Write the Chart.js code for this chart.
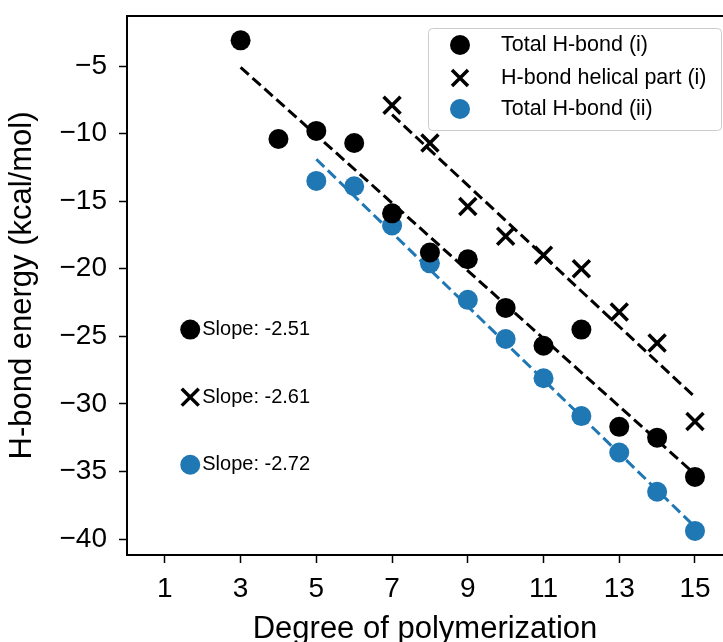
<!DOCTYPE html>
<html>
<head>
<meta charset="utf-8">
<script src="https://cdn.jsdelivr.net/npm/chart.js@4.4.1/dist/chart.umd.min.js"></script>
<style>
  html, body { margin: 0; padding: 0; background: #fff; overflow: hidden; }
  canvas { display: block; }
</style>
</head>
<body>
<canvas id="myChart" width="723" height="642"></canvas>
<script>
// data
const degI = [3, 4, 5, 6, 7, 8, 9, 10, 11, 12, 13, 14, 15];
const totalI = [-3.1, -10.4, -9.8, -10.7, -15.9, -18.8, -19.3, -22.9, -25.7, -24.5, -31.7, -32.5, -35.4];

const degHelix = [7, 8, 9, 10, 11, 12, 13, 14, 15];
const helixI = [-7.9, -10.7, -15.4, -17.6, -19.0, -20.0, -23.2, -25.5, -31.3];

const degII = [5, 6, 7, 8, 9, 10, 11, 12, 13, 14, 15];
const totalII = [-13.5, -13.9, -16.8, -19.6, -22.3, -25.2, -28.1, -30.9, -33.6, -36.5, -39.4];

// fitted lines (end points)
const fitIX = [3, 15];
const fitIY = [-5.1, -35.2];
const fitHelixX = [7, 15];
const fitHelixY = [-8.6, -29.5];
const fitIIX = [5, 15];
const fitIIY = [-11.9, -39.1];

// slope notes
const slopeText = ['Slope: -2.51', 'Slope: -2.61', 'Slope: -2.72'];
const slopeX = [1.67, 1.67, 1.67];
const slopeY = [-24.5, -29.5, -34.5];

const xTicks = [1, 3, 5, 7, 9, 11, 13, 15];
const yTicks = [-5, -10, -15, -20, -25, -30, -35, -40];

const legendLabels = ['Total H-bond (i)', 'H-bond helical part (i)', 'Total H-bond (ii)'];

const BLUE = '#1f77b4';
const FONT = "'Liberation Sans', Arial, sans-serif";

const pts = (xs, ys) => xs.map((x, i) => ({x: x, y: ys[i]}));

const noteText = {
    id: 'noteText',
    afterDatasetsDraw(chart) {
        const ctx = chart.ctx;
        const xs = chart.scales.x, ys = chart.scales.y;
        ctx.save();
        ctx.font = '20px ' + FONT;
        ctx.fillStyle = '#000';
        ctx.textBaseline = 'middle';
        ctx.textAlign = 'left';
        slopeText.forEach((t, i) => {
            ctx.fillText(t, xs.getPixelForValue(slopeX[i]) + 12, ys.getPixelForValue(slopeY[i]));
        });
        ctx.restore();
    }
};

const boxLegend = {
    id: 'boxLegend',
    afterDraw(chart) {
        const ctx = chart.ctx;
        ctx.save();
        ctx.fillStyle = 'rgba(255,255,255,0.8)';
        ctx.strokeStyle = '#cccccc';
        ctx.lineWidth = 1;
        ctx.beginPath();
        ctx.roundRect(428.5, 28.5, 293, 102, 4);
        ctx.fill();
        ctx.stroke();
        const rows = [45, 78, 109];
        // markers
        ctx.fillStyle = '#000';
        ctx.beginPath(); ctx.arc(460, rows[0], 10, 0, Math.PI * 2); ctx.fill();
        ctx.strokeStyle = '#000';
        ctx.lineWidth = 3.5;
        ctx.beginPath();
        ctx.moveTo(452, rows[1] - 8); ctx.lineTo(468, rows[1] + 8);
        ctx.moveTo(452, rows[1] + 8); ctx.lineTo(468, rows[1] - 8);
        ctx.stroke();
        ctx.fillStyle = BLUE;
        ctx.beginPath(); ctx.arc(460, rows[2], 10, 0, Math.PI * 2); ctx.fill();
        ctx.font = '21.5px ' + FONT;
        ctx.fillStyle = '#000';
        ctx.textBaseline = 'middle';
        legendLabels.forEach((t, i) => ctx.fillText(t, 501, rows[i]));
        ctx.restore();
    }
};

const ctx = document.getElementById('myChart').getContext('2d');

const myChart = new Chart(ctx, {
    type: 'scatter',
    data: {
        datasets: [
            {
                type: 'line', data: pts(fitIX, fitIY), borderColor: '#000', borderWidth: 3,
                borderDash: [11, 5], pointRadius: 0, fill: false, order: 1
            },
            {
                type: 'line', data: pts(fitHelixX, fitHelixY), borderColor: '#000', borderWidth: 3,
                borderDash: [11, 5], pointRadius: 0, fill: false, order: 1
            },
            {
                type: 'line', data: pts(fitIIX, fitIIY), borderColor: BLUE, borderWidth: 3,
                borderDash: [11, 5], pointRadius: 0, fill: false, order: 1
            },
            {
                label: 'Total H-bond (i)', data: pts(degI, totalI),
                pointStyle: 'circle', pointRadius: 10, pointBackgroundColor: '#000',
                pointBorderWidth: 0, order: 5
            },
            {
                label: 'H-bond helical part (i)', data: pts(degHelix, helixI),
                pointStyle: 'crossRot', pointRadius: 12, pointBorderColor: '#000',
                pointBorderWidth: 3.5, order: 5
            },
            {
                label: 'Total H-bond (ii)', data: pts(degII, totalII),
                pointStyle: 'circle', pointRadius: 10, pointBackgroundColor: BLUE,
                pointBorderWidth: 0, order: 5
            },
            {
                data: pts(slopeX.slice(0, 1), slopeY.slice(0, 1)), pointStyle: 'circle', pointRadius: 10,
                pointBackgroundColor: '#000', pointBorderWidth: 0, order: 5
            },
            {
                data: pts(slopeX.slice(1, 2), slopeY.slice(1, 2)), pointStyle: 'crossRot', pointRadius: 12,
                pointBorderColor: '#000', pointBorderWidth: 3.5, order: 5
            },
            {
                data: pts(slopeX.slice(2, 3), slopeY.slice(2, 3)), pointStyle: 'circle', pointRadius: 10,
                pointBackgroundColor: BLUE, pointBorderWidth: 0, order: 5
            }
        ]
    },
    options: {
        responsive: false,
        animation: false,
        devicePixelRatio: 1,
        layout: { autoPadding: false, padding: { top: 16, right: 0, left: 0, bottom: 0 } },
        plugins: {
            legend: { display: false },
            tooltip: { enabled: false }
        },
        scales: {
            x: {
                type: 'linear',
                min: 0,
                max: 15.74,
                afterBuildTicks: (s) => { s.ticks = xTicks.map(v => ({value: v})); },
                afterFit: (s) => { s.height = 87; s.paddingLeft = 0; s.paddingRight = 0; },
                grid: { drawOnChartArea: false, tickLength: 8, tickWidth: 1.5, tickColor: '#000' },
                border: { color: '#000', width: 2 },
                ticks: { color: '#000', font: { family: FONT, size: 28 }, padding: 9, maxRotation: 0, autoSkip: false },
                title: {
                    display: true, text: 'Degree of polymerization', color: '#000',
                    font: { family: FONT, size: 31, lineHeight: 0.8 }, padding: 0
                }
            },
            x2: {
                type: 'linear',
                position: 'top',
                min: 0,
                max: 15.74,
                afterFit: (s) => { s.height = 0; s.paddingLeft = 0; s.paddingRight = 0; },
                grid: { display: false },
                border: { color: '#000', width: 2 },
                ticks: { display: false }
            },
            y: {
                type: 'linear',
                min: -41.18,
                max: -1.3,
                afterBuildTicks: (s) => { s.ticks = yTicks.map(v => ({value: v})); },
                afterFit: (s) => { s.width = 127; s.paddingTop = 0; s.paddingBottom = 0; },
                grid: { drawOnChartArea: false, tickLength: 8, tickWidth: 1.5, tickColor: '#000' },
                border: { color: '#000', width: 2 },
                ticks: {
                    color: '#000', font: { family: FONT, size: 28 }, padding: 12,
                    callback: (v) => String(v).replace('-', '\u2212')
                },
                title: {
                    display: true, text: 'H-bond energy (kcal/mol)', color: '#000',
                    font: { family: FONT, size: 31, lineHeight: 1.2 }, padding: { top: 4, bottom: 0 }
                }
            }
        }
    },
    plugins: [noteText, boxLegend]
});
</script>
</body>
</html>
